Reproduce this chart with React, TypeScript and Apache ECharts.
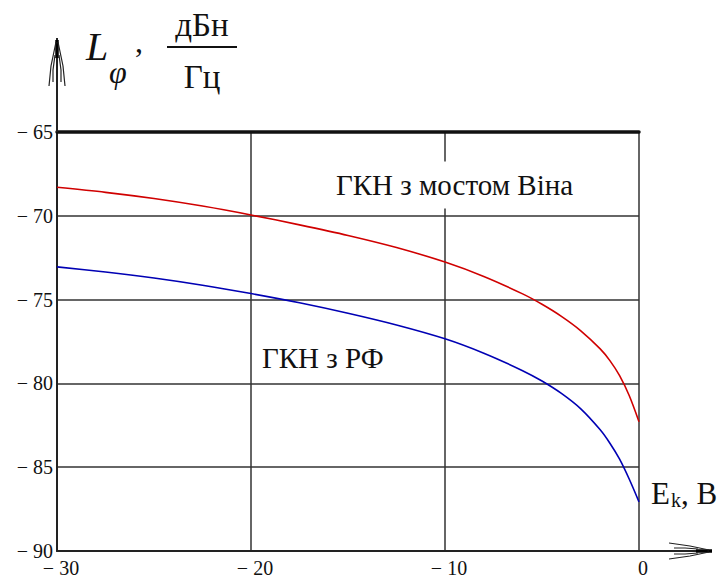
import React, { useEffect, useRef } from "react";
import * as echarts from "echarts";

const xValues = [-30, -27.5, -25, -22.5, -20, -17.5, -15, -12.5, -10, -8, -6, -5, -4, -3, -2, -1.5, -1, -0.5, 0];
const redValues = [-68.3, -68.6, -68.97, -69.42, -69.95, -70.54, -71.17, -71.89, -72.76, -73.62, -74.66, -75.28, -76.0, -76.86, -77.94, -78.64, -79.54, -80.74, -82.29];
const blueValues = [-73.05, -73.35, -73.71, -74.14, -74.64, -75.19, -75.815, -76.515, -77.34, -78.2, -79.24, -79.86, -80.6, -81.52, -82.77, -83.57, -84.52, -85.72, -87.07];
const seriesNames = ["ГКН з мостом Віна", "ГКН з РФ"];
const xTicks = { min: -30, max: 0, interval: 10 };
const yTicks = { min: -90, max: -65, interval: 5 };

const SERIF = "Liberation Serif";

function fmt(v: number) {
  return v < 0 ? "\u2212 " + Math.abs(v) : String(v);
}

function txt(x: number, y: number, text: string, size: number, opts: any = {}) {
  return {
    type: "text",
    z: 60,
    x,
    y,
    style: {
      text,
      fontFamily: SERIF,
      fontSize: size,
      fontStyle: opts.italic ? "italic" : "normal",
      fill: "#111",
      verticalAlign: "middle",
      align: opts.align || "left",
      ...(opts.extra || {}),
    },
  };
}

export default function App() {
  const ref = useRef<HTMLDivElement>(null);
  useEffect(() => {
    document.body.style.margin = "0";
    const chart = echarts.init(ref.current!, null, { renderer: "svg" });
    const ink = "#111";
    const grid = "#333";
    chart.setOption({
      animation: false,
      backgroundColor: "#fff",
      textStyle: { fontFamily: SERIF },
      grid: { left: 57, top: 132, width: 582, height: 419, containLabel: false },
      xAxis: [
        {
          type: "value",
          min: xTicks.min,
          max: xTicks.max,
          interval: xTicks.interval,
          axisLine: { show: true, onZero: false, lineStyle: { color: "#222", width: 2 } },
          axisTick: { show: false },
          axisLabel: {
            formatter: fmt,
            fontFamily: SERIF,
            fontSize: 20,
            color: ink,
            margin: 7,
            padding: [0, 0, 0, 8],
          },
          splitLine: { show: true, lineStyle: { color: grid, width: 1.5 } },
        },
        {
          type: "value",
          position: "top",
          min: xTicks.min,
          max: xTicks.max,
          interval: xTicks.interval,
          axisLine: { show: true, onZero: false, lineStyle: { color: "#111", width: 3.5 } },
          axisTick: { show: false },
          axisLabel: { show: false },
          splitLine: { show: false },
        },
      ],
      yAxis: {
        type: "value",
        min: yTicks.min,
        max: yTicks.max,
        interval: yTicks.interval,
        axisLine: { show: true, onZero: false, lineStyle: { color: "#222", width: 2 } },
        axisTick: { show: false },
        axisLabel: {
          formatter: fmt,
          fontFamily: SERIF,
          fontSize: 20,
          color: ink,
          margin: 4,
        },
        splitLine: { show: true, lineStyle: { color: grid, width: 1.5 } },
      },
      series: [
        {
          name: seriesNames[0],
          type: "line",
          data: xValues.map((x, i) => [x, redValues[i]]),
          smooth: 0.3,
          showSymbol: false,
          lineStyle: { color: "#d00000", width: 1.6 },
          z: 5,
        },
        {
          name: seriesNames[1],
          type: "line",
          data: xValues.map((x, i) => [x, blueValues[i]]),
          smooth: 0.3,
          showSymbol: false,
          lineStyle: { color: "#0000b4", width: 1.6 },
          z: 5,
        },
      ],
      graphic: [
        // y axis extension and arrow
        { type: "line", z: 50, shape: { x1: 57, y1: 132, x2: 57, y2: 38 }, style: { stroke: "#222", lineWidth: 2 } },
        { type: "line", z: 50, shape: { x1: 57, y1: 40, x2: 57, y2: 58 }, style: { stroke: "#000", lineWidth: 3.5 } },
        { type: "polyline", z: 50, shape: { points: [[56, 42], [51, 66], [49, 86]] }, style: { stroke: "#222", lineWidth: 1.2, fill: "none" } },
        { type: "polyline", z: 50, shape: { points: [[58, 42], [63, 66], [65, 86]] }, style: { stroke: "#222", lineWidth: 1.2, fill: "none" } },
        { type: "polyline", z: 50, shape: { points: [[55, 55], [53, 70], [53, 82]] }, style: { stroke: "#222", lineWidth: 1.2, fill: "none" } },
        { type: "polyline", z: 50, shape: { points: [[59, 55], [61, 70], [61, 82]] }, style: { stroke: "#222", lineWidth: 1.2, fill: "none" } },
        // x axis extension and arrow
        { type: "line", z: 50, shape: { x1: 639, y1: 551, x2: 712, y2: 551 }, style: { stroke: "#222", lineWidth: 2 } },
        { type: "line", z: 50, shape: { x1: 696, y1: 551, x2: 712, y2: 551 }, style: { stroke: "#000", lineWidth: 3.5 } },
        { type: "polyline", z: 50, shape: { points: [[709, 550], [690, 546], [669, 543]] }, style: { stroke: "#222", lineWidth: 1.2, fill: "none" } },
        { type: "polyline", z: 50, shape: { points: [[709, 552], [690, 556], [669, 559]] }, style: { stroke: "#222", lineWidth: 1.2, fill: "none" } },
        { type: "polyline", z: 50, shape: { points: [[698, 549], [685, 548], [674, 548]] }, style: { stroke: "#222", lineWidth: 1.2, fill: "none" } },
        { type: "polyline", z: 50, shape: { points: [[698, 553], [685, 554], [674, 554]] }, style: { stroke: "#222", lineWidth: 1.2, fill: "none" } },
        // title L_phi, dBn/Hz
        txt(86, 46, "L", 40, { italic: true }),
        txt(109, 72, "\u03c6", 32, { italic: true }),
        txt(135, 41, ",", 32),
        txt(202, 25, "дБн", 33, { align: "center" }),
        { type: "line", z: 60, shape: { x1: 167, y1: 47, x2: 237, y2: 47 }, style: { stroke: "#111", lineWidth: 2 } },
        txt(202, 77, "Гц", 33, { align: "center" }),
        // x axis title E_k, B
        txt(651, 493, "E", 31),
        txt(671, 500, "k", 20),
        txt(681, 493, ", B", 31),
        // curve labels
        txt(332, 185, seriesNames[0], 29, { extra: { backgroundColor: "#fff", padding: [8, 4, 10, 4] } }),
        txt(262, 358, seriesNames[1], 29),
      ],
    });
    return () => chart.dispose();
  }, []);
  return <div ref={ref} style={{ position: "fixed", left: 0, top: 0, width: 723, height: 579 }} />;
}
